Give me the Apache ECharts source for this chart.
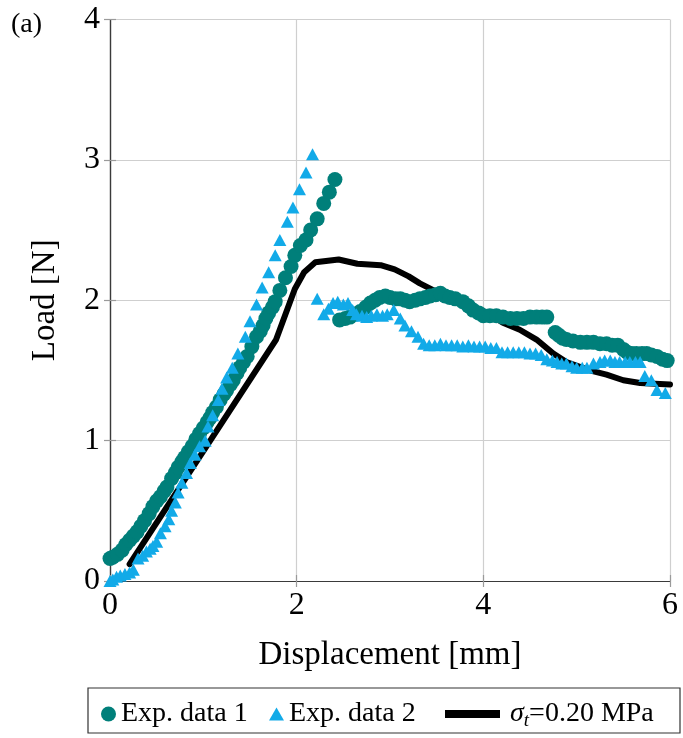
<!DOCTYPE html>
<html>
<head>
<meta charset="utf-8">
<script src="https://cdn.jsdelivr.net/npm/echarts@6/dist/echarts.min.js"></script>
<style>
  html, body { margin: 0; padding: 0; background: #fff; }
  #chart { width: 683px; height: 738px; }
</style>
</head>
<body>
<div id="chart"></div>
<script>
// Experimental data set 1 (circles)
const exp1Disp = [0, 0.03, 0.08, 0.13, 0.17, 0.21, 0.25, 0.29, 0.33, 0.37, 0.42, 0.46, 0.50, 0.54, 0.58, 0.61, 0.66, 0.70, 0.73, 0.77, 0.80, 0.84, 0.88, 0.92, 0.96, 1.00, 1.04, 1.07, 1.10, 1.14, 1.18, 1.22, 1.25, 1.29, 1.32, 1.36, 1.39, 1.43, 1.47, 1.52, 1.57, 1.61, 1.64, 1.67, 1.70, 1.74, 1.77, 1.82, 1.88, 1.94, 1.98, 2.04, 2.10, 2.15, 2.22, 2.29, 2.35, 2.41,
  2.46, 2.52, 2.57, 2.63, 2.68, 2.74, 2.79, 2.84, 2.89, 2.95, 3.00, 3.06, 3.11, 3.16, 3.21, 3.27, 3.32, 3.38, 3.43, 3.49, 3.54, 3.59, 3.64, 3.70, 3.78, 3.84, 3.89, 3.95, 4.00, 4.07, 4.14, 4.21, 4.29, 4.36, 4.43, 4.50, 4.57, 4.63, 4.68,
  4.77, 4.81, 4.85, 4.89, 4.96, 5.04, 5.11, 5.18, 5.25, 5.32, 5.38, 5.44, 5.50, 5.54, 5.59, 5.64, 5.70, 5.75, 5.80, 5.86, 5.92, 5.97];
const exp1Load = [0.16, 0.17, 0.19, 0.22, 0.26, 0.29, 0.32, 0.35, 0.39, 0.43, 0.48, 0.53, 0.57, 0.60, 0.64, 0.67, 0.73, 0.77, 0.81, 0.85, 0.88, 0.92, 0.96, 1.01, 1.05, 1.09, 1.13, 1.16, 1.20, 1.24, 1.29, 1.33, 1.36, 1.40, 1.43, 1.48, 1.52, 1.56, 1.60, 1.67, 1.74, 1.78, 1.82, 1.87, 1.91, 1.95, 1.99, 2.07, 2.16, 2.24, 2.32, 2.39, 2.43, 2.50, 2.58, 2.69, 2.77, 2.86,
  1.86, 1.87, 1.88, 1.90, 1.92, 1.95, 1.98, 2.00, 2.02, 2.03, 2.02, 2.01, 2.01, 2.00, 1.99, 2.00, 2.01, 2.02, 2.03, 2.04, 2.05, 2.03, 2.02, 2.01, 1.99, 1.96, 1.93, 1.91, 1.89, 1.89, 1.89, 1.88, 1.87, 1.87, 1.87, 1.88, 1.88, 1.88, 1.88,
  1.77, 1.75, 1.73, 1.72, 1.71, 1.70, 1.70, 1.70, 1.69, 1.69, 1.68, 1.68, 1.65, 1.63, 1.62, 1.62, 1.62, 1.62, 1.61, 1.60, 1.58, 1.57];

// Experimental data set 2 (triangles)
const exp2Disp = [0, 0.03, 0.07, 0.11, 0.16, 0.21, 0.25, 0.30, 0.35, 0.39, 0.43, 0.46, 0.50, 0.54, 0.59, 0.63, 0.66, 0.70, 0.73, 0.77, 0.82, 0.86, 0.91, 0.96, 1.02, 1.05, 1.10, 1.16, 1.20, 1.25, 1.31, 1.37, 1.45, 1.50, 1.57, 1.63, 1.70, 1.77, 1.82, 1.90, 1.96, 2.03, 2.10, 2.17,
  2.22, 2.29, 2.34, 2.39, 2.44, 2.50, 2.55, 2.60, 2.64, 2.70, 2.75, 2.80, 2.86, 2.92, 2.97, 3.04, 3.11, 3.16, 3.23, 3.30, 3.36, 3.42, 3.48, 3.54, 3.60, 3.66, 3.72, 3.78, 3.84, 3.90, 3.96, 4.02, 4.08, 4.14, 4.20, 4.26, 4.32, 4.38, 4.44, 4.50, 4.56, 4.62,
  4.68, 4.74, 4.79, 4.84, 4.89, 4.95, 5.00, 5.06, 5.11, 5.18, 5.25, 5.30, 5.36, 5.41, 5.46, 5.52, 5.57, 5.63, 5.68, 5.73, 5.80, 5.86, 5.95];
const exp2Load = [0, 0.01, 0.03, 0.04, 0.05, 0.06, 0.08, 0.16, 0.18, 0.21, 0.23, 0.25, 0.28, 0.34, 0.39, 0.44, 0.50, 0.56, 0.63, 0.70, 0.77, 0.84, 0.90, 0.96, 1.00, 1.10, 1.18, 1.29, 1.37, 1.45, 1.52, 1.62, 1.74, 1.85, 1.97, 2.09, 2.20, 2.32, 2.43, 2.56, 2.66, 2.79, 2.91, 3.04,
  2.01, 1.90, 1.94, 1.98, 1.99, 1.97, 1.98, 1.93, 1.90, 1.89, 1.88, 1.89, 1.90, 1.89, 1.90, 1.93, 1.87, 1.82, 1.78, 1.74, 1.69, 1.68, 1.68, 1.69, 1.68, 1.68, 1.68, 1.67, 1.68, 1.67, 1.67, 1.67, 1.66, 1.66, 1.63, 1.63, 1.63, 1.63, 1.63, 1.62, 1.62, 1.61,
  1.58, 1.57, 1.56, 1.55, 1.55, 1.53, 1.52, 1.52, 1.52, 1.55, 1.56, 1.57, 1.57, 1.56, 1.56, 1.56, 1.56, 1.56, 1.56, 1.46, 1.43, 1.36, 1.34];

// Simulation with tensile strength 0.20 MPa
const modelDisp = [0.21, 1.78, 1.98, 2.08, 2.20, 2.45, 2.65, 2.90, 3.05, 3.20, 3.32, 3.50, 3.68, 3.86, 4.04, 4.21, 4.39, 4.57, 4.75, 4.89, 5.14, 5.32, 5.50, 5.68, 6.00];
const modelLoad = [0.12, 1.72, 2.08, 2.20, 2.27, 2.29, 2.26, 2.25, 2.22, 2.17, 2.12, 2.06, 2.01, 1.96, 1.91, 1.84, 1.79, 1.72, 1.62, 1.56, 1.50, 1.47, 1.43, 1.41, 1.40];

const xTicks = [0, 2, 4, 6];
const yTicks = [0, 1, 2, 3, 4];

const seriesNames = ['Exp. data 1', 'Exp. data 2', 'σt=0.20 MPa'];

const TEAL = '#007f7a';
const CYAN = '#12aae8';
const SERIF = '"Liberation Serif", "DejaVu Serif", serif';

const zip = (xs, ys) => xs.map((x, i) => [x, ys[i]]);

const chart = echarts.init(document.getElementById('chart'));

const baseAxisLine = { show: true, lineStyle: { color: '#3a3a3a', width: 1.2 } };
const innerTick = { show: true, inside: true, length: 6, lineStyle: { color: '#9a9a9a', width: 1.2 } };

const legendText = { fontFamily: SERIF, fontSize: 28, color: '#000' };

chart.setOption({
  animation: false,
  backgroundColor: '#fff',
  grid: { left: 110, right: 13, top: 19.5, bottom: 157 },
  xAxis: [
    {
      type: 'value', min: xTicks[0], max: xTicks[xTicks.length - 1], interval: 2,
      position: 'bottom',
      name: 'Displacement [mm]', nameLocation: 'middle', nameGap: 58,
      nameTextStyle: { fontFamily: SERIF, fontSize: 33, color: '#000' },
      axisLine: baseAxisLine, axisTick: innerTick,
      axisLabel: { fontFamily: SERIF, fontSize: 32, color: '#000', margin: 9 },
      splitLine: { show: true, lineStyle: { color: '#cfcfcf', width: 1.2 } }
    },
    {
      type: 'value', min: xTicks[0], max: xTicks[xTicks.length - 1], interval: 2,
      position: 'top',
      axisLine: baseAxisLine, axisTick: innerTick,
      axisLabel: { show: false }, splitLine: { show: false }
    }
  ],
  yAxis: [
    {
      type: 'value', min: yTicks[0], max: yTicks[yTicks.length - 1], interval: 1,
      position: 'left',
      name: 'Load [N]', nameLocation: 'middle', nameGap: 48,
      nameTextStyle: { fontFamily: SERIF, fontSize: 33, color: '#000' },
      axisLine: baseAxisLine, axisTick: innerTick,
      axisLabel: { fontFamily: SERIF, fontSize: 32, color: '#000', margin: 10 },
      splitLine: { show: true, lineStyle: { color: '#cfcfcf', width: 1.2 } }
    },
    {
      type: 'value', min: yTicks[0], max: yTicks[yTicks.length - 1], interval: 1,
      position: 'right',
      axisLine: baseAxisLine, axisTick: innerTick,
      axisLabel: { show: false }, splitLine: { show: false }
    }
  ],
  legend: [
    {
      data: [{ name: seriesNames[0], icon: 'circle' }],
      left: 96, top: 695, itemWidth: 15, itemHeight: 15,
      textStyle: legendText
    },
    {
      data: [{ name: seriesNames[1], icon: 'triangle' }],
      left: 264, top: 695, itemWidth: 15, itemHeight: 13,
      textStyle: legendText
    },
    {
      data: [{ name: seriesNames[2], icon: 'rect' }],
      left: 440, top: 695, itemWidth: 55, itemHeight: 8,
      formatter: () => '{s|σ}{t|t}{r|=0.20 MPa}',
      textStyle: Object.assign({}, legendText, {
        padding: [0, 0, 0, 5],
        rich: {
          s: { fontFamily: SERIF, fontSize: 28, fontStyle: 'italic', color: '#000', lineHeight: 32, verticalAlign: 'middle' },
          t: { fontFamily: SERIF, fontSize: 19, fontStyle: 'italic', color: '#000', lineHeight: 19, verticalAlign: 'bottom' },
          r: { fontFamily: SERIF, fontSize: 28, color: '#000', lineHeight: 32, verticalAlign: 'middle' }
        }
      })
    }
  ],
  graphic: [
    {
      type: 'rect', silent: true,
      shape: { x: 88, y: 688, width: 592, height: 45 },
      style: { fill: 'none', stroke: '#333', lineWidth: 1.2 }
    },
    {
      type: 'text', left: 11, top: 11,
      style: { text: '(a)', font: '28px "Liberation Serif", serif', fill: '#000' }
    }
  ],
  series: [
    {
      name: seriesNames[2], type: 'line', z: 2,
      data: zip(modelDisp, modelLoad),
      symbol: 'none', clip: false,
      lineStyle: { color: '#000', width: 6, join: 'round', cap: 'round' },
      itemStyle: { color: '#000' }
    },
    {
      name: seriesNames[0], type: 'scatter', z: 3,
      data: zip(exp1Disp, exp1Load),
      symbol: 'circle', symbolSize: 15, clip: false,
      itemStyle: { color: TEAL, opacity: 1 }
    },
    {
      name: seriesNames[1], type: 'scatter', z: 4,
      data: zip(exp2Disp, exp2Load),
      symbol: 'triangle', symbolSize: [13, 12], clip: false,
      itemStyle: { color: CYAN, opacity: 1 }
    }
  ]
});
</script>
</body>
</html>
